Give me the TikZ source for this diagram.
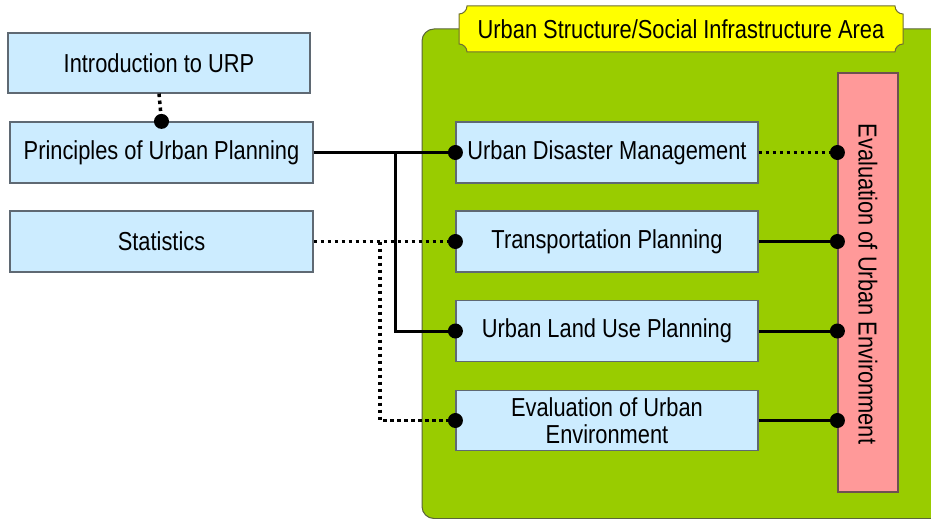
\documentclass[tikz,border=0pt]{standalone}
\usepackage{fontspec}
\setmainfont{Liberation Sans}[FakeStretch=0.84]
\definecolor{boxfill}{RGB}{204,236,255}
\definecolor{boxline}{RGB}{95,105,115}
\definecolor{areagreen}{RGB}{153,204,0}
\definecolor{arealine}{RGB}{90,100,60}
\definecolor{banneryellow}{RGB}{255,255,0}
\definecolor{bannerline}{RGB}{110,110,50}
\definecolor{evalpink}{RGB}{255,153,153}
\definecolor{pinkline}{RGB}{110,80,80}
\tikzset{
  bluebox/.style={draw=boxline, line width=1.2pt, fill=boxfill, inner sep=0pt,
    minimum width=302pt, minimum height=61pt, align=center,
    font=\fontsize{26}{27}\selectfont},
  solidlink/.style={line width=3pt, black},
  dotlink/.style={line width=3.5pt, black, dash pattern=on 3.5pt off 3.5pt},
  enddot/.style={fill=black}
}
\begin{document}
\begin{tikzpicture}[x=1pt,y=-1pt]
\useasboundingbox (0,0) rectangle (931,519);
% green area
\begin{scope}
\clip (0,0) rectangle (931,519);
\draw[fill=areagreen, draw=arealine, line width=1pt, rounded corners=12pt]
  (422,29) rectangle (950,518.5);
\end{scope}
% banner
\def\rr{8}
\draw[fill=banneryellow, draw=bannerline, line width=1pt]
  (459+\rr,6) -- (903-\rr,6)
  .. controls (903-\rr,6+0.55*\rr) and (903-0.55*\rr,6+\rr) .. (903,6+\rr)
  -- (903,52-\rr)
  .. controls (903-0.55*\rr,52-\rr) and (903-\rr,52-0.55*\rr) .. (903-\rr,52)
  -- (459+\rr,52)
  .. controls (459+\rr,52-0.55*\rr) and (459+0.55*\rr,52-\rr) .. (459,52-\rr)
  -- (459,6+\rr)
  .. controls (459+0.55*\rr,6+\rr) and (459+\rr,6+0.55*\rr) .. (459+\rr,6) -- cycle;
\node[font=\fontsize{26}{27}\selectfont] (banner) at (681,29) {Urban Structure/Social Infrastructure Area};
% left boxes
\node[bluebox, minimum height=60pt] (intro) at (159,63) {Introduction to URP};
\node[bluebox, minimum width=303pt] (principles) at (161.5,152.5) {Principles of Urban Planning};
\node[bluebox, minimum width=303pt] (stats) at (161.5,241.5) {Statistics};
% inner boxes
\node[bluebox] (disaster) at (607,152.5) {Urban Disaster Management};
\node[bluebox] (transport) at (607,241.5) {Transportation Planning};
\node[bluebox] (landuse) at (607,331) {Urban Land Use Planning};
\node[bluebox, minimum height=60pt] (evalbox) at (607,420.5) {Evaluation of Urban\\Environment};
% pink box
\node[draw=pinkline, line width=1.2pt, fill=evalpink, minimum width=60pt, minimum height=419pt, inner sep=0pt] (pink) at (868,282.5) {};
\node[rotate=-90, font=\fontsize{26}{27}\selectfont] (pinktext) at (868,284) {Evaluation of Urban Environment};
% coordinates
\coordinate (b1) at (395,152.5);
\coordinate (b2) at (380,241.5);
\coordinate (p1) at (pink.west |- disaster.east);
\coordinate (p2) at (pink.west |- transport.east);
\coordinate (p3) at (pink.west |- landuse.east);
\coordinate (p4) at (pink.west |- evalbox.east);
% connectors
\draw[dotlink] (intro.south) -- (principles.north);
\draw[solidlink] (principles.east) -- (disaster.west);
\draw[solidlink] (b1) |- (landuse.west);
\draw[dotlink] (stats.east) -- (transport.west);
\draw[dotlink] (b2) |- (evalbox.west);
\draw[dotlink] (disaster.east) -- (p1);
\draw[solidlink] (transport.east) -- (p2);
\draw[solidlink] (landuse.east) -- (p3);
\draw[solidlink] (evalbox.east) -- (p4);
% dots
\foreach \n in {principles.north, disaster.west, transport.west, landuse.west, evalbox.west, p1, p2, p3, p4}
  \fill[enddot] (\n) circle (7.5pt);
\end{tikzpicture}
\end{document}
